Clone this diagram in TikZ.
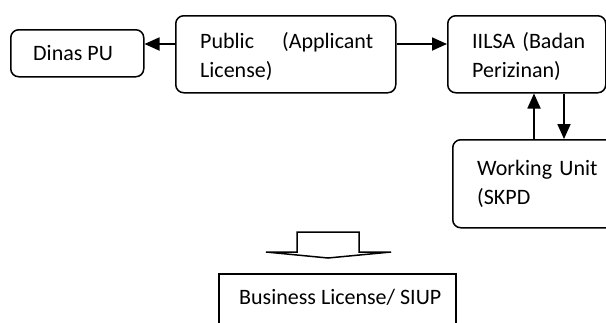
\documentclass[tikz,border=0pt]{standalone}
\usepackage{fontspec}
\setmainfont{Carlito}
\usetikzlibrary{arrows.meta}
\tikzset{
  box/.style={draw, line width=1.5pt, rounded corners=8pt, inner sep=0pt},
  sqbox/.style={draw, line width=1.5pt, inner sep=0pt},
  txt/.style={inner sep=0pt, anchor=north west, align=left, font=\fontsize{22}{29}\selectfont},
  arr/.style={line width=1.8pt, -{Triangle[length=15pt,width=13pt]}},
}
\begin{document}
\begin{tikzpicture}[x=1pt,y=-1pt]
\useasboundingbox (0,0) rectangle (606,322);
% boxes
\node[box, anchor=north west, minimum width=133pt, minimum height=47pt] (dinas) at (10,29) {};
\node[box, anchor=north west, minimum width=220pt, minimum height=77pt] (public) at (175,15) {};
\node[box, anchor=north west, minimum width=158pt, minimum height=77pt] (iilsa) at (447,15) {};
\node[box, anchor=north west, minimum width=180pt, minimum height=88pt] (work) at (452,139) {};
\node[sqbox, anchor=north west, minimum width=237pt, minimum height=80pt] (biz) at (218,273) {};
% texts
\node[txt] (tdinas) at (33,45) {Dinas PU};
\node[txt, text width=173pt] (tpublic) at (200,32) {Public\hfill(Applicant\\License)};
\node[txt, text width=113pt] (tiilsa) at (472,32) {IILSA\hfill(Badan\\Perizinan)};
\node[txt, text width=124pt] (twork) at (477,160) {Working Unit\\(SKPD};
\node[txt] (tbiz) at (239,289) {Business License/ SIUP};
% helper coordinates
\coordinate (ya) at (0,44);
\coordinate (xa) at (534,0);
\coordinate (xb) at (564,0);
% connectors
\draw[arr] (public.west |- ya) -- (dinas.east |- ya);
\draw[arr] (public.east |- ya) -- (iilsa.west |- ya);
\draw[arr] (xa |- work.north) -- (xa |- iilsa.south);
\draw[arr] (xb |- iilsa.south) -- (xb |- work.north);
% block arrow
\draw[line width=1.5pt, fill=white, line join=miter]
  (297,252) -- (297,232) -- (359,232) -- (359,252) -- (391,252) -- (328,258) -- (266,252) -- cycle;
\end{tikzpicture}
\end{document}
